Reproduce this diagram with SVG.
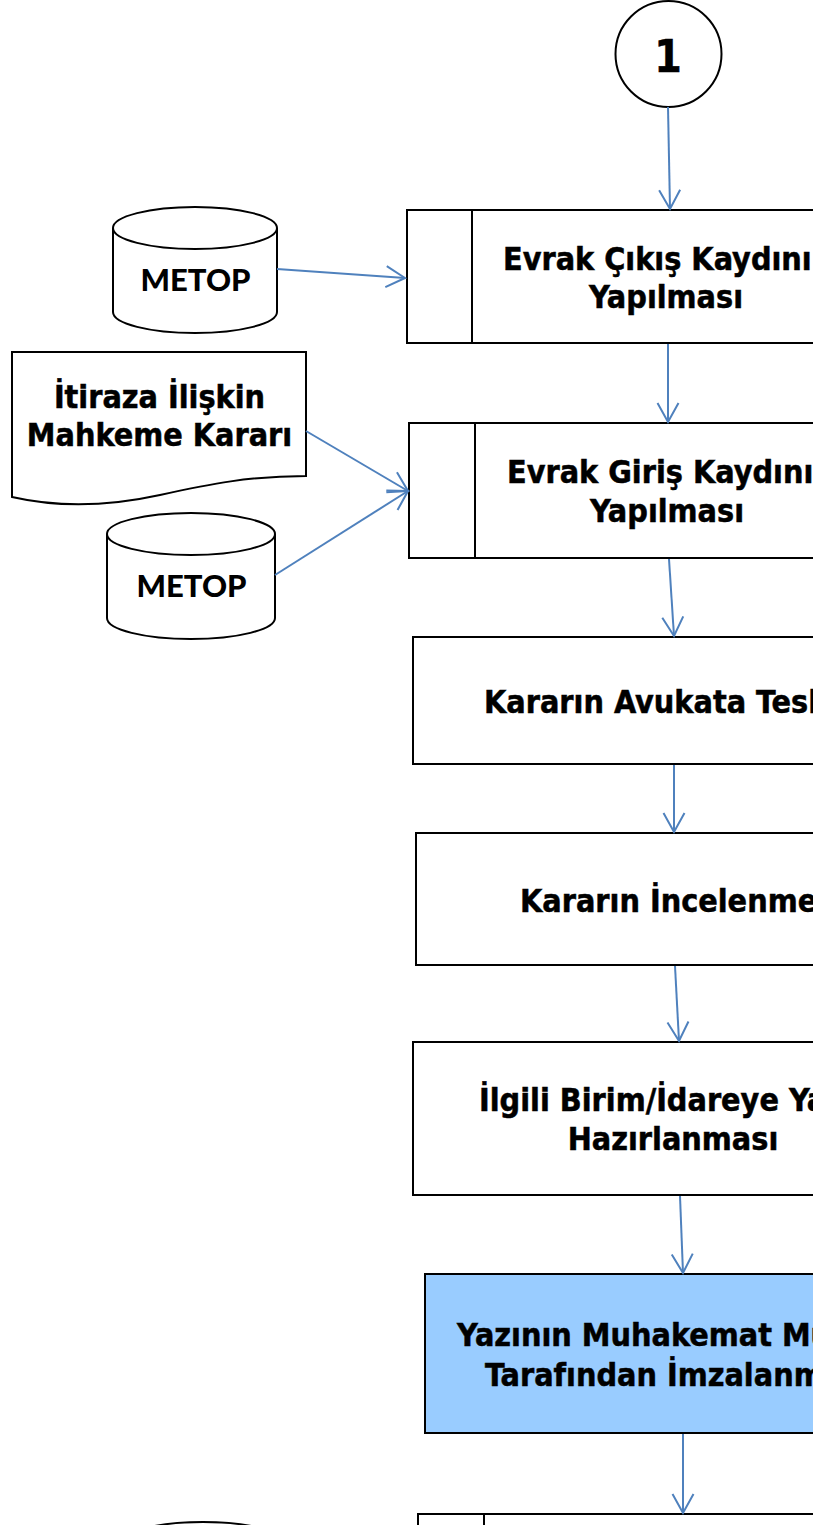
<svg xmlns="http://www.w3.org/2000/svg" width="838" height="1525" viewBox="0 0 838 1525">
<style>
.box{fill:#fff;stroke:#000;stroke-width:2}
.blue{fill:#99CCFF;stroke:#000;stroke-width:2}
.t{font-family:"DejaVu Sans Condensed","DejaVu Sans",Verdana,sans-serif;font-weight:bold;font-size:32px;fill:#000;stroke:#000;stroke-width:0.5;text-anchor:middle}
.s{text-anchor:start}
.m{font-family:Lato,"Liberation Sans",sans-serif;font-weight:900;font-size:31px;fill:#000;text-anchor:middle}
.c{fill:none;stroke:#4F81BD;stroke-width:2}
</style>
<defs>
<marker id="ah" markerWidth="22" markerHeight="24" refX="19" refY="11" orient="auto" markerUnits="userSpaceOnUse" style="overflow:visible">
<path d="M0,0.5 L19,11 L0,21.5" fill="none" stroke="#4F81BD" stroke-width="2"/>
</marker>
<clipPath id="clip"><rect x="0" y="0" width="813" height="1525"/></clipPath>
</defs>
<rect width="838" height="1525" fill="#fff"/>
<g clip-path="url(#clip)">
<g id="n1">
<circle cx="668.5" cy="54" r="53" class="box"/>
<text x="668" y="72" class="t" style="font-size:44px">1</text>
</g>
<g id="n2">
<rect x="407" y="210" width="522" height="133" class="box"/>
<line x1="472" y1="210" x2="472" y2="343" stroke="#000" stroke-width="2"/>
<text x="503" y="270" class="t s">Evrak Çıkış Kaydının</text>
<text x="666" y="308" class="t">Yapılması</text>
</g>
<g id="n3">
<path d="M113,228 V312 A82,21 0 0 0 277,312 V228 A82,21 0 0 0 113,228 A82,21 0 0 0 277,228" class="box"/>
<text x="195.5" y="291" class="m">METOP</text>
</g>
<g id="n4">
<path d="M12,352 H306 V476 C250,476 210,484 160,495 C110,506 60,508 12,497 Z" class="box"/>
<text x="159.5" y="408" class="t">İtiraza İlişkin</text>
<text x="159.5" y="446" class="t">Mahkeme Kararı</text>
</g>
<g id="n5">
<rect x="409" y="423" width="520" height="135" class="box"/>
<line x1="475" y1="423" x2="475" y2="558" stroke="#000" stroke-width="2"/>
<text x="507" y="483" class="t s">Evrak Giriş Kaydının</text>
<text x="667" y="522" class="t">Yapılması</text>
</g>
<g id="n6">
<path d="M107,534 V618 A84,21 0 0 0 275,618 V534 A84,21 0 0 0 107,534 A84,21 0 0 0 275,534" class="box"/>
<text x="191.5" y="597" class="m">METOP</text>
</g>
<g id="n7">
<rect x="413" y="637" width="522" height="127" class="box"/>
<text x="484" y="713" class="t s">Kararın Avukata Teslimi</text>
</g>
<g id="n8">
<rect x="416" y="833" width="520" height="132" class="box"/>
<text x="520" y="912" class="t s">Kararın İncelenmesi</text>
</g>
<g id="n9">
<rect x="413" y="1042" width="522" height="153" class="box"/>
<text x="479" y="1111" class="t s">İlgili Birim/İdareye Yazı</text>
<text x="673" y="1150" class="t">Hazırlanması</text>
</g>
<g id="n10">
<rect x="425" y="1274" width="520" height="159" class="blue"/>
<text x="457" y="1346" class="t s">Yazının Muhakemat Müdürü</text>
<text x="485" y="1386" class="t s">Tarafından İmzalanması</text>
</g>
<g id="n11">
<rect x="418" y="1514" width="520" height="120" class="box"/>
<line x1="484" y1="1514" x2="484" y2="1634" stroke="#000" stroke-width="2"/>
</g>
<g id="n12">
<path d="M121,1543 V1620 A82,21 0 0 0 285,1620 V1543 A82,21 0 0 0 121,1543 A82,21 0 0 0 285,1543" class="box"/>
</g>
<g id="connectors">
<line x1="668" y1="107" x2="670" y2="209" class="c" marker-end="url(#ah)"/>
<line x1="668" y1="344" x2="668" y2="422" class="c" marker-end="url(#ah)"/>
<line x1="277" y1="269" x2="405" y2="278" class="c" marker-end="url(#ah)"/>
<line x1="306" y1="431" x2="408" y2="491" class="c" marker-end="url(#ah)"/>
<line x1="275" y1="575" x2="408" y2="491" class="c" marker-end="url(#ah)"/>
<line x1="669" y1="559" x2="674" y2="636" class="c" marker-end="url(#ah)"/>
<line x1="674" y1="765" x2="674" y2="832" class="c" marker-end="url(#ah)"/>
<line x1="675" y1="966" x2="679" y2="1041" class="c" marker-end="url(#ah)"/>
<line x1="680" y1="1196" x2="683" y2="1273" class="c" marker-end="url(#ah)"/>
<line x1="683" y1="1434" x2="683" y2="1513" class="c" marker-end="url(#ah)"/>
</g>
</g>
</svg>
